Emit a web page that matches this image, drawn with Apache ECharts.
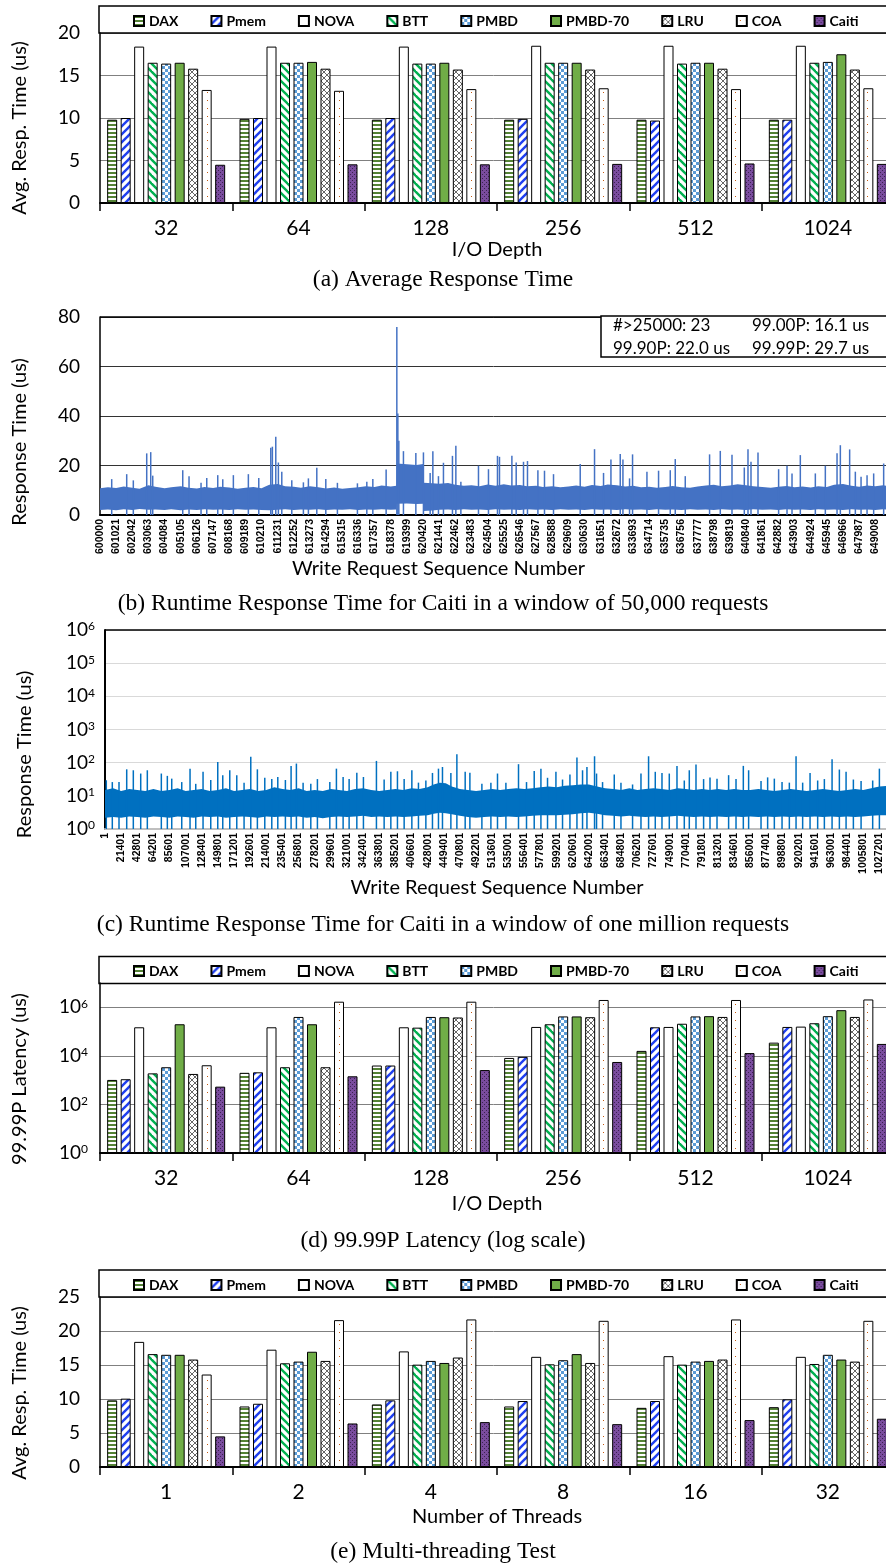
<!DOCTYPE html>
<html>
<head>
<meta charset="utf-8">
<title>Caiti response time figure</title>
<script src="https://cdn.jsdelivr.net/npm/echarts@6.0.0/dist/echarts.min.js"></script>
<style>
  html, body { margin: 0; padding: 0; background: #fff; }
  #chart { width: 886px; height: 1567px; }
</style>
</head>
<body>
<div id="chart"></div>
<script>
// ---- data ----
const schemes = ['DAX', 'Pmem', 'NOVA', 'BTT', 'PMBD', 'PMBD-70', 'LRU', 'COA', 'Caiti']
const depthCats = ['32', '64', '128', '256', '512', '1024']
const threadCats = ['1', '2', '4', '8', '16', '32']

// (a) avg response time (us) by I/O depth, one row per scheme
const avgRespDepth = [
  [9.8, 9.9, 9.8, 9.8, 9.8, 9.8],
  [10.0, 10.0, 10.0, 9.9, 9.7, 9.8],
  [18.4, 18.4, 18.4, 18.5, 18.5, 18.5],
  [16.5, 16.5, 16.4, 16.5, 16.4, 16.5],
  [16.4, 16.5, 16.4, 16.5, 16.5, 16.6],
  [16.5, 16.6, 16.5, 16.5, 16.5, 17.5],
  [15.8, 15.8, 15.7, 15.7, 15.8, 15.7],
  [13.3, 13.2, 13.4, 13.5, 13.4, 13.5],
  [4.5, 4.55, 4.55, 4.6, 4.65, 4.6],
]

// (d) 99.99P latency (us) by I/O depth
const p9999Depth = [
  [1020, 2000, 4000, 8200, 16000, 35000],
  [1090, 2100, 4000, 9100, 150000, 155000],
  [150000, 150000, 150000, 155000, 155000, 160000],
  [1900, 3400, 145000, 200000, 210000, 220000],
  [3400, 400000, 400000, 420000, 420000, 430000],
  [200000, 200000, 390000, 420000, 430000, 760000],
  [1800, 3400, 380000, 390000, 400000, 400000],
  [4100, 1700000, 1700000, 2000000, 2000000, 2100000],
  [540, 1440, 2600, 5600, 13000, 31000],
]

// (e) avg response time (us) by thread count
const avgRespThreads = [
  [9.8, 8.9, 9.2, 8.9, 8.7, 8.8],
  [10.05, 9.3, 9.8, 9.7, 9.7, 9.95],
  [18.4, 17.25, 17.0, 16.2, 16.3, 16.2],
  [16.6, 15.25, 15.05, 15.1, 15.05, 15.15],
  [16.5, 15.5, 15.6, 15.7, 15.5, 16.5],
  [16.5, 16.95, 15.3, 16.6, 15.6, 15.8],
  [15.8, 15.6, 16.1, 15.3, 15.8, 15.5],
  [13.6, 21.6, 21.7, 21.5, 21.7, 21.5],
  [4.5, 6.4, 6.6, 6.3, 6.9, 7.1],
]

// (b) x tick labels (request sequence numbers)
const ticksB = [600000, 601021, 602042, 603063, 604084, 605105, 606126, 607147, 608168, 609189,
  610210, 611231, 612252, 613273, 614294, 615315, 616336, 617357, 618378, 619399,
  620420, 621441, 622462, 623483, 624504, 625525, 626546, 627567, 628588, 629609,
  630630, 631651, 632672, 633693, 634714, 635735, 636756, 637777, 638798, 639819,
  640840, 641861, 642882, 643903, 644924, 645945, 646966, 647987, 649008]

// (b) dense body of the trace: [seq, low edge, high edge] in us
const bandB = [
  [600000, 2.0, 10.8], [600500, 2.2, 11.2], [601021, 1.9, 10.9], [601500, 2.3, 11.5],
  [602042, 2.0, 11.0], [602500, 2.4, 10.6], [603063, 2.1, 12.0], [603500, 2.2, 11.4],
  [604084, 2.0, 10.8], [604500, 2.3, 11.2], [605105, 1.9, 11.6], [605600, 2.2, 11.0],
  [606126, 2.0, 10.7], [606600, 2.3, 11.3], [607147, 2.1, 10.9], [607600, 2.2, 11.4],
  [608168, 2.0, 11.1], [608700, 2.3, 10.6], [609189, 2.1, 11.0], [609700, 2.2, 11.3],
  [610210, 2.0, 10.8], [610700, 1.9, 12.2], [611231, 2.1, 12.5], [611700, 2.3, 11.6],
  [612252, 2.0, 11.4], [612700, 2.2, 11.0], [613273, 2.1, 11.6], [613800, 2.3, 11.2],
  [614294, 2.0, 10.7], [614800, 2.2, 11.1], [615315, 2.1, 10.6], [615800, 2.3, 10.9],
  [616336, 2.0, 11.2], [616800, 2.2, 11.6], [617357, 2.1, 11.3], [617800, 2.3, 11.9],
  [618378, 2.1, 11.5], [618740, 2.2, 11.8], [618760, 4.5, 20.8], [619399, 4.6, 20.5],
  [620000, 4.4, 20.2], [620430, 4.5, 20.6], [620450, 1.6, 13.0], [621000, 1.8, 12.8],
  [621441, 2.1, 12.6], [622000, 2.2, 12.9], [622462, 2.0, 12.2], [623000, 2.3, 11.8],
  [623483, 2.1, 12.0], [624000, 2.2, 11.6], [624504, 2.0, 12.3], [625000, 2.3, 11.8],
  [625525, 2.1, 12.4], [626000, 2.2, 11.9], [626546, 2.0, 12.1], [627000, 2.3, 11.6],
  [627567, 2.1, 11.8], [628000, 2.2, 11.3], [628588, 2.0, 11.6], [629100, 2.3, 11.2],
  [629609, 2.1, 11.5], [630100, 2.2, 11.9], [630630, 2.0, 11.4], [631100, 2.3, 12.1],
  [631651, 2.1, 11.7], [632100, 2.2, 12.3], [632672, 2.0, 12.0], [633200, 2.3, 11.5],
  [633693, 2.1, 11.8], [634200, 2.2, 11.2], [634714, 2.0, 11.4], [635200, 2.3, 11.0],
  [635735, 2.1, 11.3], [636200, 2.2, 11.7], [636756, 2.0, 11.2], [637300, 2.3, 11.0],
  [637777, 2.1, 11.5], [638300, 2.2, 11.9], [638798, 2.0, 12.2], [639300, 2.3, 11.6],
  [639819, 2.1, 11.9], [640300, 2.2, 12.4], [640840, 2.0, 12.0], [641300, 2.3, 11.6],
  [641861, 2.1, 11.3], [642400, 2.2, 11.0], [642882, 2.0, 11.4], [643400, 2.3, 11.7],
  [643903, 2.1, 11.2], [644400, 2.2, 11.5], [644924, 2.0, 11.1], [645400, 2.3, 11.6],
  [645945, 2.1, 11.3], [646400, 2.2, 12.2], [646966, 2.0, 12.5], [647500, 2.3, 11.8],
  [647987, 2.1, 11.4], [648500, 2.2, 11.9], [649008, 2.0, 11.6], [649500, 2.3, 12.0],
  [650000, 2.1, 11.5],
]

// (b) individual spikes above the body: [seq, us]
const spikesB = [
  [600740, 14.5], [601688, 16.5], [602106, 14], [602953, 24.9], [603206, 25.4], [603333, 15.9],
  [605230, 18.1], [605628, 15.7], [606387, 13], [606748, 15], [607443, 16.1], [607760, 14.4],
  [608430, 16.1], [609378, 16.5], [610036, 15], [610795, 27.2], [610896, 27.6], [611111, 31.6],
  [611276, 21.2], [611491, 17.5], [612123, 14], [612857, 13.2], [613173, 14.8], [613704, 19.1],
  [614273, 14.5], [615007, 13], [616272, 12.8], [616866, 13.4], [617246, 14.5], [618087, 18.4],
  [618763, 76], [618827, 41], [618890, 30], [619181, 25.8], [619965, 25.1], [620445, 25.3],
  [620869, 17], [621040, 25.8], [621394, 15.7], [621710, 21.1], [622279, 23.9], [622494, 28],
  [622811, 13.4], [623924, 19.9], [624556, 18.5], [625125, 23.9], [625252, 23.5], [626036, 23.9],
  [626308, 21.2], [626770, 21.5], [627022, 21.8], [627680, 18.1], [628097, 17.9], [628667, 16.5],
  [630355, 20.6], [631260, 26.6], [631829, 17], [632297, 22.4], [632885, 24.6], [633055, 22.4],
  [633473, 14.8], [633663, 24.5], [634573, 17.5], [635307, 17.9], [636047, 18.1], [636363, 22.6],
  [636995, 15.7], [638532, 24.5], [639209, 25.9], [639949, 24.3], [640727, 19.2], [640960, 26.6],
  [641150, 21.5], [641593, 25.3], [642896, 18.5], [643427, 19.9], [643743, 16.8], [644268, 24.2],
  [645217, 16.8], [645849, 19.9], [646589, 24.9], [646798, 28.2], [647386, 26.5], [647746, 17.5],
  [648107, 15.5], [648486, 16.1], [648904, 16.8], [649536, 20.8],
]

// (c) x tick labels
const ticksC = [1, 21401, 42801, 64201, 85601, 107001, 128401, 149801, 171201, 192601,
  214001, 235401, 256801, 278201, 299601, 321001, 342401, 363801, 385201, 406601,
  428001, 449401, 470801, 492201, 513601, 535001, 556401, 577801, 599201, 620601,
  642001, 663401, 684801, 706201, 727601, 749001, 770401, 791801, 813201, 834601,
  856001, 877401, 898801, 920201, 941601, 963001, 984401, 1005801, 1027201]

// (c) dense body of the trace: [seq, low edge, high edge] in us
const bandC = [
  [1, 2.2, 15], [10700, 2.3, 17], [21401, 2.2, 14], [32100, 2.4, 16], [42801, 2.3, 15],
  [53500, 2.2, 14], [64201, 2.4, 16], [74900, 2.3, 14], [85601, 2.2, 15], [96300, 2.4, 17],
  [107001, 2.3, 14], [117700, 2.2, 15], [128401, 2.4, 16], [139100, 2.3, 14], [149801, 2.4, 15],
  [160500, 2.2, 17], [171201, 2.3, 14], [181900, 2.4, 15], [192601, 2.3, 16], [203300, 2.2, 14],
  [214001, 2.4, 15], [224700, 2.3, 18], [235401, 2.4, 16], [246100, 2.3, 15], [256801, 2.4, 17],
  [267500, 2.2, 14], [278201, 2.3, 15], [288900, 2.1, 14], [299601, 2.3, 16], [310300, 2.4, 15],
  [321001, 2.3, 14], [331700, 2.4, 16], [342401, 2.5, 17], [353100, 2.3, 15], [363801, 2.4, 14],
  [374500, 2.3, 15], [385201, 2.4, 16], [395900, 2.3, 15], [406601, 2.4, 17], [417300, 2.5, 16],
  [428001, 2.6, 18], [436000, 2.9, 22], [444000, 3.1, 25], [452000, 3.0, 24], [460000, 2.8, 19],
  [470801, 2.5, 16], [481500, 2.3, 15], [492201, 2.2, 14], [502900, 2.3, 15], [513601, 2.4, 16],
  [524300, 2.3, 15], [535001, 2.4, 16], [545700, 2.3, 17], [556401, 2.4, 16], [567100, 2.5, 17],
  [577801, 2.6, 18], [588500, 2.6, 19], [599201, 2.6, 18], [609900, 2.7, 20], [620601, 2.8, 21],
  [631300, 3.0, 22], [642001, 3.1, 22], [652700, 2.9, 19], [663401, 2.6, 17], [674100, 2.5, 16],
  [684801, 2.4, 15], [695500, 2.5, 17], [706201, 2.4, 15], [716900, 2.3, 16], [727601, 2.4, 17],
  [738300, 2.3, 16], [749001, 2.4, 15], [759700, 2.5, 17], [770401, 2.4, 16], [781100, 2.3, 15],
  [791801, 2.4, 16], [802500, 2.3, 15], [813201, 2.4, 16], [823900, 2.3, 15], [834601, 2.4, 16],
  [845300, 2.3, 15], [856001, 2.4, 15], [866700, 2.3, 16], [877401, 2.4, 15], [888100, 2.3, 14],
  [898801, 2.4, 15], [909500, 2.3, 16], [920201, 2.4, 15], [930900, 2.3, 14], [941601, 2.4, 15],
  [952300, 2.3, 16], [963001, 2.4, 15], [973700, 2.3, 14], [984401, 2.4, 15], [995100, 2.3, 16],
  [1005801, 2.4, 15], [1016500, 2.5, 17], [1027201, 2.6, 19], [1040000, 2.6, 20],
]

// (c) individual spikes: [seq, us]
const spikesC = [
  [1725, 29.5], [9689, 26], [18581, 26], [28800, 63], [37560, 59], [47381, 47], [56141, 59],
  [74722, 47], [82686, 40], [88525, 33], [101797, 26], [112812, 66], [120377, 23], [130066, 53],
  [140285, 30], [149576, 105], [156212, 42], [165503, 59], [174793, 42], [184481, 25], [193374, 150],
  [202133, 63], [211954, 35], [221245, 32], [229208, 37], [239294, 30], [246859, 80], [253893, 94],
  [262786, 25], [273005, 23], [281765, 32], [298222, 26], [306981, 66], [315874, 37], [323837, 32],
  [334056, 50], [342816, 37], [360069, 113], [370289, 31], [379181, 53], [387941, 55], [396833, 32],
  [407052, 59], [415812, 25], [425633, 29], [434393, 49], [442356, 66], [447665, 74], [458813, 49],
  [466776, 180], [477792, 53], [484030, 50], [499956, 23], [511901, 25], [520661, 47], [531809, 25],
  [548532, 90], [559149, 26], [569369, 56], [578261, 66], [587021, 35], [598169, 53], [606929, 31],
  [616750, 44], [626040, 143], [633473, 59], [639313, 74], [649399, 156], [652053, 47], [660016, 26],
  [675545, 44], [684437, 25], [699832, 22], [710980, 47], [721066, 156], [729960, 53], [738852, 49],
  [748541, 47], [758760, 80], [768449, 29], [775085, 59], [783977, 88], [794064, 32], [802558, 36],
  [811848, 33], [827244, 42], [837065, 32], [846754, 80], [853788, 59], [870245, 28], [879004, 36],
  [887897, 33], [898116, 26], [907805, 25], [916697, 156], [925457, 25], [935278, 49], [945364, 29],
  [954257, 32], [964476, 127], [974165, 62], [983057, 53], [992745, 31], [1002965, 28], [1018360, 29],
  [1027253, 66],
]

const statLines = [
  ['#>25000: 23', '99.00P: 16.1 us'],
  ['99.90P: 22.0 us', '99.99P: 29.7 us'],
]

// ---- fill patterns ----
function tile(w, h, draw) {
  const c = document.createElement('canvas')
  c.width = w
  c.height = h
  draw(c.getContext('2d'))
  return { image: c, repeat: 'repeat' }
}

function diag(g, color, up) {
  g.fillStyle = '#fff'
  g.fillRect(0, 0, 8, 8)
  g.strokeStyle = color
  g.lineWidth = 2.4
  const segs = up
    ? [[-4, 4, 4, -4], [0, 8, 8, 0], [4, 12, 12, 4]]
    : [[-4, 4, 4, 12], [0, 0, 8, 8], [4, -4, 12, 4]]
  segs.forEach(s => {
    g.beginPath()
    g.moveTo(s[0], s[1])
    g.lineTo(s[2], s[3])
    g.stroke()
  })
}

const fills = [
  tile(4, 4, g => { g.fillStyle = '#fff'; g.fillRect(0, 0, 4, 4); g.fillStyle = '#548235'; g.fillRect(0, 0, 4, 2) }),
  tile(8, 8, g => diag(g, '#1f3ff0', true)),
  '#fff',
  tile(8, 8, g => diag(g, '#00b050', false)),
  tile(6, 6, g => { g.fillStyle = '#fff'; g.fillRect(0, 0, 6, 6); g.fillStyle = '#5b9bd5'; g.fillRect(0, 0, 3, 3); g.fillRect(3, 3, 3, 3) }),
  '#70ad47',
  tile(6, 6, g => {
    g.fillStyle = '#fff'; g.fillRect(0, 0, 6, 6)
    g.strokeStyle = '#404040'; g.lineWidth = 0.8
    g.beginPath(); g.moveTo(0, 0); g.lineTo(6, 6); g.moveTo(0, 6); g.lineTo(6, 0); g.stroke()
  }),
  tile(6, 8, g => { g.fillStyle = '#fff'; g.fillRect(0, 0, 6, 8); g.fillStyle = '#c55a11'; g.fillRect(3, 4, 1, 1) }),
  tile(4, 4, g => { g.fillStyle = '#7a4c9e'; g.fillRect(0, 0, 4, 4); g.fillStyle = '#3b2250'; g.fillRect(0, 0, 1, 1); g.fillRect(2, 2, 1, 1) }),
]

// ---- builders ----
const FONT = 'Lato'

function barSeries(rows, idx) {
  return schemes.map((name, i) => ({
    type: 'bar',
    name,
    xAxisIndex: idx,
    yAxisIndex: idx,
    data: rows[i],
    barWidth: 10,
    barGap: '35%',
    itemStyle: { color: fills[i], borderColor: '#000', borderWidth: 1 },
    emphasis: { disabled: true },
  }))
}

function catAxis(idx, cats, name, gap) {
  return {
    type: 'category',
    gridIndex: idx,
    data: cats,
    axisLine: { lineStyle: { color: '#000', width: 2 } },
    axisTick: { show: true, length: 8, lineStyle: { color: '#000', width: 1.5 } },
    axisLabel: { fontSize: 21, color: '#000', margin: 15 },
    splitLine: { show: false },
    name,
    nameLocation: 'middle',
    nameGap: gap,
    nameTextStyle: { fontSize: 20, color: '#000' },
  }
}

function leftName(text, shift) {
  return {
    name: text,
    nameLocation: 'middle',
    nameGap: 70,
    nameTextStyle: { fontSize: 20, color: '#000', padding: [0, shift * 2, 0, 0] },
  }
}

function valueY(idx, max, interval, name, shift) {
  return Object.assign({
    type: 'value',
    gridIndex: idx,
    min: 0,
    max,
    interval,
    axisLine: { show: true, lineStyle: { color: '#000', width: 1.5 } },
    axisTick: { show: false },
    axisLabel: { fontSize: 19, color: '#000', margin: 20 },
    splitLine: { show: true, lineStyle: { color: '#808080', width: 1 } },
  }, leftName(name, shift))
}

const supLabel = {
  fontSize: 19,
  color: '#000',
  formatter: v => '10{e|' + Math.round(Math.log10(v)) + '}',
  rich: { e: { fontSize: 12, verticalAlign: 'top', color: '#000' } },
}

function seqAxis(idx, min, max, ticks, nameShift) {
  return {
    type: 'value',
    gridIndex: idx,
    min,
    max,
    axisLine: { show: true, lineStyle: { color: idx === 1 ? '#000' : '#bfbfbf', width: 2 } },
    axisTick: { show: false },
    splitLine: { show: false },
    axisLabel: {
      customValues: ticks,
      rotate: 90,
      fontSize: 10.5,
      fontWeight: 'bold',
      fontFamily: 'Liberation Sans',
      color: '#000',
      margin: 4,
      formatter: v => String(v),
    },
    name: 'Write Request Sequence Number',
    nameLocation: 'middle',
    nameGap: 44,
    nameTextStyle: { fontSize: 20, color: '#000', padding: [0, nameShift * 2, 0, 0] },
  }
}

function bandSeries(idx, band, color) {
  return {
    type: 'custom',
    xAxisIndex: idx,
    yAxisIndex: idx,
    data: band,
    encode: { x: 0, y: [1, 2] },
    silent: true,
    renderItem: (params, api) => {
      if (params.dataIndex !== 0) return null
      const top = band.map(p => api.coord([p[0], p[2]]))
      const bottom = band.slice().reverse().map(p => api.coord([p[0], p[1]]))
      return { type: 'polygon', shape: { points: top.concat(bottom) }, style: { fill: color } }
    },
  }
}

function spikeSeries(idx, spikes, color) {
  return {
    type: 'bar',
    xAxisIndex: idx,
    yAxisIndex: idx,
    data: spikes,
    barWidth: 1.5,
    silent: true,
    itemStyle: { color },
  }
}

function legendAt(top) {
  return {
    top,
    left: 133,
    padding: 0,
    data: schemes,
    icon: 'rect',
    itemWidth: 10,
    itemHeight: 10,
    itemGap: 32,
    selectedMode: false,
    textStyle: { fontSize: 14, fontWeight: 'bold', color: '#000', fontFamily: FONT },
  }
}

function caption(text, y) {
  return {
    type: 'text', x: 443, y, silent: true,
    style: { text, align: 'center', verticalAlign: 'middle', fontSize: 23.5, fontFamily: 'Liberation Serif', fill: '#000' },
  }
}

function frame(x, y, w, h) {
  return { type: 'rect', shape: { x, y, width: w, height: h }, silent: true, z: 100,
    style: { fill: null, stroke: '#000', lineWidth: 1.5 } }
}

function hline(x1, x2, y) {
  return { type: 'line', shape: { x1, y1: y, x2, y2: y }, silent: true, z: 100,
    style: { stroke: '#000', lineWidth: 1.5 } }
}

const statText = []
statLines.forEach((row, r) => {
  row.forEach((t, c) => {
    statText.push({ type: 'text', x: c === 0 ? 613 : 752, y: 326 + r * 23, z: 101, silent: true,
      style: { text: t, fontSize: 17, fontFamily: FONT, fill: '#000', verticalAlign: 'middle' } })
  })
})

const chart = echarts.init(document.getElementById('chart'), null, { renderer: 'canvas' })

chart.setOption({
  animation: false,
  backgroundColor: '#fff',
  textStyle: { fontFamily: FONT },
  tooltip: { show: false },
  grid: [
    { left: 100, top: 33, width: 794, height: 170, outerBoundsMode: 'none' },
    { left: 100, top: 317, width: 791, height: 198, outerBoundsMode: 'none' },
    { left: 105, top: 630, width: 784, height: 199, outerBoundsMode: 'none' },
    { left: 100, top: 983, width: 794, height: 170, outerBoundsMode: 'none' },
    { left: 100, top: 1297, width: 794, height: 170, outerBoundsMode: 'none' },
  ],
  legend: [legendAt(14), legendAt(964), legendAt(1278)],
  xAxis: [
    catAxis(0, depthCats, 'I/O Depth', 37),
    seqAxis(1, 600000, 650000, ticksB, 57),
    seqAxis(2, 1, 1040000, ticksC, 0),
    catAxis(3, depthCats, 'I/O Depth', 41),
    catAxis(4, threadCats, 'Number of Threads', 40),
  ],
  yAxis: [
    valueY(0, 20, 5, 'Avg. Resp. Time (us)', 10),
    Object.assign(valueY(1, 80, 20, 'Response Time (us)', 26), {
      axisLabel: { fontSize: 19, color: '#000', margin: 20 },
      splitLine: { show: true, lineStyle: { color: '#333', width: 1 } },
    }),
    Object.assign({
      type: 'log', gridIndex: 2, logBase: 10, min: 1, max: 1e6, interval: 1,
      axisLine: { show: true, lineStyle: { color: '#000', width: 2 } },
      axisTick: { show: false },
      axisLabel: Object.assign({ margin: 10 }, supLabel),
      splitLine: { show: true, lineStyle: { color: '#d9d9d9', width: 1.2 } },
    }, leftName('Response Time (us)', 25)),
    Object.assign({
      type: 'log', gridIndex: 3, logBase: 10, min: 1, max: 1e7, interval: 2,
      axisLine: { show: true, lineStyle: { color: '#000', width: 1.5 } },
      axisTick: { show: false },
      axisLabel: Object.assign({ margin: 12, showMaxLabel: false }, supLabel),
      splitLine: { show: true, lineStyle: { color: '#808080', width: 1 } },
    }, leftName('99.99P Latency (us)', 11)),
    valueY(4, 25, 5, 'Avg. Resp. Time (us)', 11),
  ],
  series: [].concat(
    barSeries(avgRespDepth, 0),
    [bandSeries(1, bandB, '#4472c4'), spikeSeries(1, spikesB, '#4472c4')],
    [bandSeries(2, bandC, '#0070c0'), spikeSeries(2, spikesC, '#0070c0')],
    barSeries(p9999Depth, 3),
    barSeries(avgRespThreads, 4)
  ),
  graphic: [].concat(
    [
      frame(99, 6, 800, 27),
      frame(99, 956.5, 800, 27),
      frame(99, 1270, 800, 27),
      hline(100, 886, 317),
      hline(105, 886, 630),
      { type: 'rect', shape: { x: 601, y: 316, width: 300, height: 41 }, z: 100, silent: true,
        style: { fill: '#fff', stroke: '#000', lineWidth: 1.5 } },
    ],
    statText,
    [
      caption('(a) Average Response Time', 280),
      caption('(b) Runtime Response Time for Caiti in a window of 50,000 requests', 604),
      caption('(c) Runtime Response Time for Caiti in a window of one million requests', 925),
      caption('(d) 99.99P Latency (log scale)', 1241),
      caption('(e) Multi-threading Test', 1552),
    ]
  ),
})
</script>
</body>
</html>
